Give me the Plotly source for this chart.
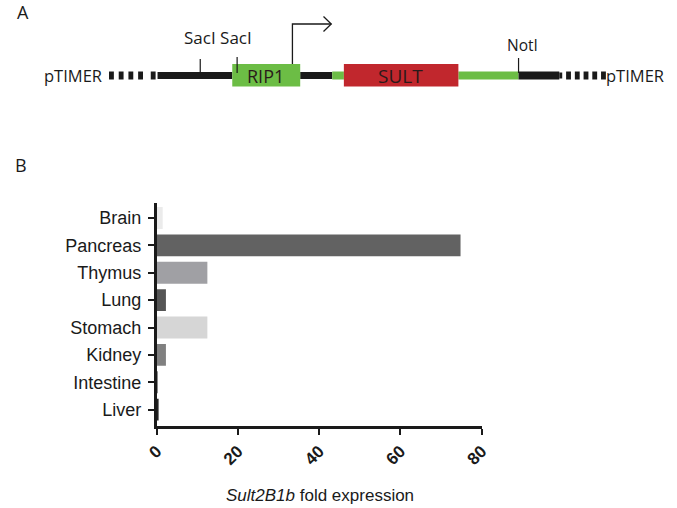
import plotly.graph_objects as go

W, H = 677, 508

# ---- Panel B data ----
tissues = ["Brain", "Pancreas", "Thymus", "Lung", "Stomach", "Kidney", "Intestine", "Liver"]
fold_expression = [1.5, 74.8, 12.5, 2.3, 12.5, 2.3, 0.1, 0.5]
bar_colors = ["#ebebeb", "#626262", "#a0a0a4", "#555555", "#d6d6d6", "#808080", "#333333", "#222222"]
x_ticks = [0, 20, 40, 60, 80]

# ---- Panel A construct (pixel layout of the schematic) ----
# segments: (x0, x1, color, half-thickness)
segments = [
    (151, 228, "#1a1a1a", 3.5),
    (298, 331, "#1a1a1a", 3.5),
    (331, 343, "#6cbd45", 4),
    (461, 523, "#6cbd45", 4),
    (523, 565, "#1a1a1a", 4),
    (565, 568, "#1a1a1a", 3),
]
dashes_left = [101, 111, 121, 131, 144]
dashes_right = [572, 581, 590, 599, 608]
boxes = [  # (x0, x1, fill, label, size)
    (228, 298, "#6cbd45", "RIP1", 18),
    (343, 461, "#c1272d", "SULT", 19),
]
sites = [  # (x, y_top, y_bottom)
    (195, 59, 73),
    (233, 57, 73),
    (523, 58, 73),
]
line_y = 75.5

fig = go.Figure()

fig.add_trace(go.Bar(
    y=tissues, x=fold_expression, orientation="h",
    marker=dict(color=bar_colors, line=dict(width=0)),
    width=0.8, xaxis="x", yaxis="y", showlegend=False,
))

def px(x):
    return x / W

def py(y):
    return 1 - y / H

fig.update_layout(
    width=W, height=H,
    margin=dict(l=0, r=0, t=0, b=0),
    paper_bgcolor="white", plot_bgcolor="rgba(0,0,0,0)",
    font=dict(family="Liberation Sans, Arial", color="#1a1a1a"),
    xaxis=dict(
        domain=[px(150), px(485)], range=[0, 80], tickvals=x_ticks,
        showgrid=False, zeroline=False, showline=True, linecolor="#1a1a1a", linewidth=2.5,
        ticks="outside", ticklen=6, tickwidth=2, tickcolor="#1a1a1a",
        tickangle=-45, tickfont=dict(size=17, family="Liberation Sans, Arial", weight="bold"),
        anchor="y",
    ),
    yaxis=dict(
        domain=[py(426), py(203)], type="category", range=[7.6, -0.55],
        showgrid=False, zeroline=False, showline=True, linecolor="#1a1a1a", linewidth=2.5,
        ticks="outside", ticklen=6, tickwidth=2, tickcolor="#1a1a1a",
        tickfont=dict(size=18), anchor="x", ticklabelstandoff=3,
    ),
    xaxis2=dict(domain=[0, 1], range=[0, W], visible=False, anchor="y2", fixedrange=True),
    yaxis2=dict(domain=[0, 1], range=[H, 0], visible=False, anchor="x2", fixedrange=True),
)

shapes = []
ann = []
ref = dict(xref="x2", yref="y2")

for x0, x1, c, h in segments:
    shapes.append(dict(type="rect", x0=x0, x1=x1, y0=line_y - h, y1=line_y + h,
                       fillcolor=c, line=dict(width=0), layer="above", **ref))
for d in dashes_left + dashes_right:
    shapes.append(dict(type="rect", x0=d, x1=d + 5, y0=line_y - 4, y1=line_y + 4,
                       fillcolor="#1a1a1a", line=dict(width=0), layer="above", **ref))
for x0, x1, c, lab, sz in boxes:
    shapes.append(dict(type="rect", x0=x0, x1=x1, y0=64, y1=86.5,
                       fillcolor=c, line=dict(width=0), layer="above", **ref))
    ann.append(dict(x=(x0 + x1) / 2 - 1, y=75.5, text=lab, showarrow=False,
                    font=dict(size=sz, family="Open Sans", color="#2a1a1a"), **ref))
for x, y0, y1 in sites:
    shapes.append(dict(type="line", x0=x, x1=x, y0=y0, y1=y1,
                       line=dict(color="#1a1a1a", width=1.2), layer="above", **ref))

# promoter arrow
shapes.append(dict(type="path", path="M 290 64 L 290 24 L 330 24",
                   line=dict(color="#1a1a1a", width=1.3), layer="above", **ref))
shapes.append(dict(type="path", path="M 322 16.5 L 330 24 L 322 31.5",
                   line=dict(color="#1a1a1a", width=1.3), layer="above", **ref))

diag_font = dict(size=16.5, family="Open Sans", color="#1a1a1a")
ann += [
    dict(x=64, y=75.5, text="pTIMER", showarrow=False, font=diag_font, **ref),
    dict(x=643, y=75.5, text="pTIMER", showarrow=False, font=diag_font, **ref),
    dict(x=213, y=37, text="SacI SacI", showarrow=False, font=dict(size=17, family="Open Sans", color="#1a1a1a"), **ref),
    dict(x=527, y=45, text="NotI", showarrow=False, font=dict(size=15.5, family="Open Sans", color="#1a1a1a"), **ref),
    dict(x=12, y=12, text="A", showarrow=False, font=dict(size=18, family="Open Sans"), **ref),
    dict(x=10, y=165, text="B", showarrow=False, font=dict(size=18, family="Open Sans"), **ref),
    dict(x=318, y=495, text="<i>Sult2B1b</i> fold expression", showarrow=False,
         font=dict(size=17, family="Liberation Sans, Arial"), **ref),
]

fig.update_layout(shapes=shapes, annotations=ann)
fig.write_html("out.html", config={"displayModeBar": False},
               post_script="document.body.style.margin='0px';")
